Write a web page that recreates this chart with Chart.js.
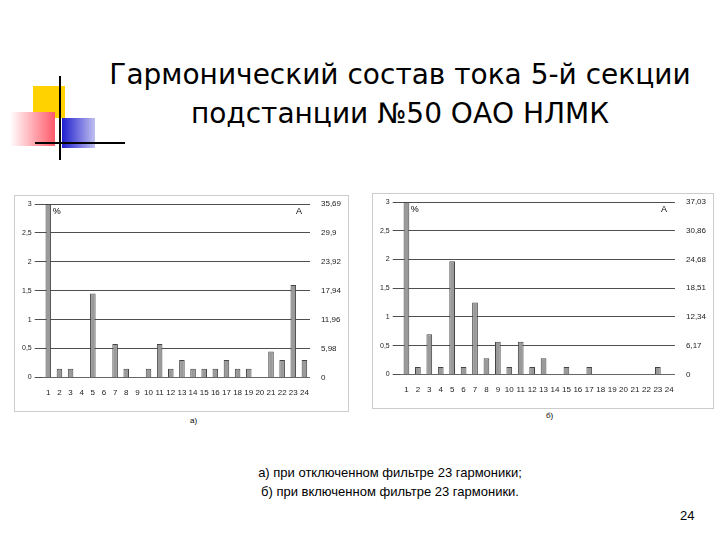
<!DOCTYPE html>
<html><head><meta charset="utf-8">
<script src="https://cdn.jsdelivr.net/npm/chart.js"></script>
<style>
body{margin:0;width:720px;height:540px;background:#fff;position:relative;overflow:hidden;font-family:Arial,"Liberation Sans",sans-serif}
.abs{position:absolute}
#title{left:90px;top:55px;width:620px;text-align:center;font-family:Tahoma,"DejaVu Sans",sans-serif;font-size:28px;line-height:39px;color:#000}
.box{background:#fff;border:1px solid #ccc}
</style></head><body>
<div class="abs" style="left:33px;top:86px;width:32px;height:32px;background:#ffd200"></div>
<div class="abs" style="left:10px;top:112px;width:45px;height:34px;background:linear-gradient(90deg,#fff,#ff5a6a)"></div>
<div class="abs" style="left:62px;top:118px;width:33px;height:30px;background:linear-gradient(90deg,#2020d0,#c0c0f0)"></div>
<div class="abs" style="left:59px;top:76px;width:2px;height:84px;background:#000"></div>
<div class="abs" style="left:35px;top:142px;width:90px;height:2px;background:#000"></div>
<div id="title" class="abs">Гармонический состав тока 5-й секции<br>подстанции №50 ОАО НЛМК</div>
<div class="abs box" style="left:14px;top:195px;width:333px;height:215px"><canvas id="c1"></canvas></div>
<div class="abs box" style="left:372px;top:193px;width:340px;height:214px"><canvas id="c2"></canvas></div>
<div class="abs" style="left:190px;top:416px;font-size:8px">а)</div>
<div class="abs" style="left:546px;top:411px;font-size:8px">б)</div>
<div class="abs" style="left:90px;top:463px;width:600px;text-align:center;font-size:13px;line-height:19px">а) при отключенном фильтре 23 гармоники;<br>б) при включенном фильтре 23 гармоники.</div>
<div class="abs" style="left:680px;top:508px;font-size:13px">24</div>
<script>
const categories=["1","2","3","4","5","6","7","8","9","10","11","12","13","14","15","16","17","18","19","20","21","22","23","24"];
const valuesA=[3,0.15,0.15,0,1.45,0,0.58,0.15,0,0.15,0.58,0.15,0.3,0.15,0.15,0.15,0.3,0.15,0.15,0,0.45,0.3,1.6,0.3];
const valuesB=[3,0.13,0.7,0.13,1.97,0.13,1.25,0.28,0.57,0.13,0.57,0.13,0.28,0,0.13,0,0.13,0,0,0,0,0,0.13,0];
const leftTicks=["0","0,5","1","1,5","2","2,5","3"];
const rightTicksA=["0","5,98","11,96","17,94","23,92","29,9","35,69"];
const rightTicksB=["0","6,17","12,34","18,51","24,68","30,86","37,03"];
const labelPlugin={id:'lbl',afterDraw(ch){const c=ch.ctx,a=ch.chartArea;c.save();c.font='9px Arial';c.fillStyle='#000';c.fillText('%',a.left+10,a.top+10);c.fillText('A',a.right-14,a.top+10);c.restore();}};
function make(id,vals,rt){
 new Chart(document.getElementById(id),{type:'bar',data:{labels:categories,datasets:[{data:vals,backgroundColor:'#9a9a9a',borderColor:'#444',borderWidth:1,barPercentage:0.5,categoryPercentage:1}]},
 options:{responsive:true,maintainAspectRatio:false,animation:false,plugins:{legend:{display:false},tooltip:{enabled:false}},
 layout:{padding:{top:8,right:4,left:4,bottom:10}},
 scales:{x:{grid:{display:false},border:{color:'#666'},ticks:{font:{size:8},color:'#222',maxRotation:0,autoSkip:false}},
 y:{min:0,max:3,ticks:{stepSize:0.5,font:{size:7},color:'#222',callback:(v,i)=>leftTicks[i]},grid:{color:'#222',lineWidth:0.8},border:{display:false}},
 y2:{position:'right',min:0,max:3,ticks:{stepSize:0.5,font:{size:8},color:'#222',callback:(v,i)=>rt[i]},grid:{display:false},border:{display:false}}}},
 plugins:[labelPlugin]});
}
make('c1',valuesA,rightTicksA);
make('c2',valuesB,rightTicksB);
</script></body></html>
